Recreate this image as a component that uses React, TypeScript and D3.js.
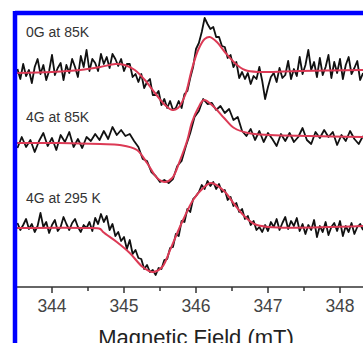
import React from 'react';
import * as d3 from 'd3';

const W = 363;
const H = 343;

// field grid of the recorded spectra (mT)
const FIELD_START = 343.52;
const STEP_FINE = 0.04;
const STEP_COARSE = 0.06;

const xTicks = [344, 345, 346, 347, 348];
const xMinorTicks = [344.5, 345.5, 346.5, 347.5];

const labels = ['0G at 85K', '4G at 85K', '4G at 295 K'];
const labelLevels = [25.0, 16.5, 8.4];
const offsets = [21.4, 14.4, 5.9];

// measured spectra (a.u., relative to each baseline)
const spec0G85 = [
  0.4, -0.6, 0.9, -0.3, 0.3, -1.0, 0.6, 1.4, -0.1, 0.8,
  -0.7, 0.2, 1.8, -0.2, 0.5, 1.0, -0.7, 0.8, 0.0, 1.4,
  0.6, -0.4, 1.7, 0.6, 2.3, 0.2, 1.4, 1.0, 0.2, 1.9,
  0.9, 1.6, 0.5, 1.9, 1.4, 0.7, 1.4, 0.2, 0.9, 0.9,
  -0.4, -0.1, -0.9, -0.1, -1.5, -0.9, -0.6, -2.2, -2.2, -1.8,
  -3.2, -2.6, -3.5, -2.8, -3.7, -3.5, -2.8, -3.5, -2.1, -1.8,
  -0.5, 0.6, 2.4, 3.0, 4.1, 5.5, 4.9, 4.4, 4.6, 3.6,
  3.6, 2.7, 2.6, 1.5, 1.8, 0.6, 1.1, -0.5, 0.1, -0.6,
  0.0, -1.1, -0.3, -0.6, 0.6, -0.8, -2.6, -1.4, -0.4, 0.0,
  -0.9, 0.5, -0.5, -0.2, 1.2, -0.6, 0.4, -0.3, 1.6, -0.1,
  0.8, 2.3, 0.3, 1.1, -0.4, 1.5, -0.2, 0.6, 1.8, -0.5,
  1.1, 0.0, 1.4, -0.6, 0.8, 1.6, -0.1, 0.5, 1.2, -0.7,
  0.0,
];

const spec4G85 = [
  -0.5, 0.6, -0.4, 0.3, -0.9, 0.2, 1.0, -0.3, 0.5, -0.7,
  0.8, 0.1, 1.1, -0.4, 0.4, -0.5, 0.6, 0.2, 0.9, 0.3,
  1.2, 0.4, 1.6, 0.8, 1.3, 0.7, 0.9, 0.2, -0.4, -1.6,
  -1.8, -2.9, -3.3, -3.9, -3.7, -4.0, -3.6, -2.3, -1.8, -0.3,
  1.0, 2.6, 3.2, 4.4, 3.9, 4.0, 3.3, 3.7, 3.0, 3.4,
  2.3, 2.6, 1.2, 0.7, 1.4, 0.3, 1.2, 0.1, 1.0, 0.4,
  -0.3, 0.9, 0.2, 1.0, 0.1, 0.6, 1.5, 0.3, -0.1, 1.1,
  0.5, 1.3, 0.6, 1.1, -0.2, 0.8, 0.2, 1.2, 0.4, -0.1,
  0.7,
];

const spec4G295 = [
  0.5, -0.2, 0.3, 0.9, -0.1, 0.4, -0.4, 0.2, 1.5, 0.1,
  0.6, -0.5, 0.3, 0.8, -0.3, 0.1, 1.1, 0.4, -0.2, 0.5,
  0.9, 0.1, -0.4, 0.3, 0.0, 0.6, -0.3, 1.0, 0.4, 1.4,
  0.6, 1.2, -0.2, 0.4, -0.8, -0.4, -1.3, -0.9, -2.1, -1.2,
  -2.6, -2.2, -3.0, -3.1, -4.1, -3.7, -4.4, -4.2, -4.7, -4.0,
  -4.1, -3.2, -3.1, -2.0, -1.9, -0.6, -0.8, 0.7, 0.6, 1.9,
  1.6, 2.9, 3.2, 3.6, 4.3, 3.9, 4.7, 4.2, 4.6, 3.9,
  4.4, 3.6, 3.8, 2.8, 3.1, 2.2, 2.5, 1.6, 1.9, 0.9,
  1.2, 0.3, 0.7, -0.2, 0.1, -0.4, 0.3, -0.3, 0.6, 0.1,
  0.9, -0.2, 0.5, 1.1, -0.1, 0.7, 0.2, 1.0, -0.3, 0.4,
  -0.6, 0.3, -0.2, 0.8, -0.9, 0.2, -0.4, 0.6, -0.7, 0.1,
  0.5, -0.3, 0.7, -0.8, 0.2, -0.4, 0.5, -0.6, 0.1, 0.4,
  -0.2,
];

// simulated fits: [field mT, intensity]
const fit0G85: [number, number][] = [
  [343.51, 0], [344.0, 0.1], [344.39, 0.3], [344.67, 0.6], [344.88, 0.9],
  [345.01, 0.8], [345.15, 0.3], [345.29, -0.7], [345.43, -2.0], [345.57, -3.2],
  [345.67, -3.7], [345.75, -3.5], [345.85, -2.2], [345.94, 0.3], [346.03, 2.3],
  [346.12, 3.4], [346.19, 3.6], [346.29, 3.1], [346.4, 2.1], [346.54, 1.0],
  [346.68, 0.3], [346.89, 0.1], [347.44, 0.2], [348.32, 0.3],
];

const fit4G85: [number, number][] = [
  [343.51, 0], [344.1, 0], [344.67, -0.1], [344.94, -0.2], [345.18, -0.7],
  [345.32, -2.0], [345.46, -3.5], [345.57, -3.9], [345.67, -3.5], [345.78, -1.7],
  [345.88, 0.3], [345.94, 2.0], [346.03, 3.5], [346.11, 4.3], [346.25, 3.6],
  [346.39, 2.5], [346.53, 1.5], [346.72, 1.0], [347.03, 0.8], [347.58, 0.7],
  [348.32, 0.6],
];

const fit4G295: [number, number][] = [
  [343.51, 0], [344.5, 0], [344.67, -0.1], [344.71, -0.4], [344.9, -1.4],
  [345.08, -2.5], [345.26, -3.9], [345.4, -4.4], [345.53, -3.9], [345.64, -2.2],
  [345.74, -0.5], [345.82, 0.8], [345.96, 2.8], [346.1, 4.0], [346.21, 4.5],
  [346.39, 3.7], [346.53, 2.4], [346.67, 1.2], [346.81, 0.4], [347.0, 0.1],
  [348.32, 0.2],
];

const spectra = [
  { values: spec0G85, step: STEP_FINE, fit: fit0G85 },
  { values: spec4G85, step: STEP_COARSE, fit: fit4G85 },
  { values: spec4G295, step: STEP_FINE, fit: fit4G295 },
];

export default function App() {
  const x = d3.scaleLinear().domain([344, 348]).range([52, 340]);
  const y = d3.scaleLinear().domain([0, 27.2]).range([287, 15]);

  const font = '"Liberation Sans", Arial, Helvetica, sans-serif';

  return (
    <svg
      width={W}
      height={H}
      style={{ position: 'absolute', left: 0, top: 0, background: '#fff' }}
    >
      <defs>
        <clipPath id="plot">
          <rect x={15} y={12} width={W - 15} height={287 - 12} />
        </clipPath>
      </defs>

      <g clipPath="url(#plot)">
        {spectra.map((s, k) => {
          const raw = d3
            .line<number>()
            .x((_, i) => x(FIELD_START + i * s.step))
            .y((v) => y(offsets[k] + v));
          const fit = d3
            .line<[number, number]>()
            .x((d) => x(d[0]))
            .y((d) => y(offsets[k] + d[1]))
            .curve(d3.curveCatmullRom.alpha(0.5));
          return (
            <g key={k}>
              <path d={raw(s.values) || ''} fill="none" stroke="#111" strokeWidth={1.8} strokeLinejoin="round" />
              <path d={fit(s.fit) || ''} fill="none" stroke="#dc3a55" strokeWidth={2} />
            </g>
          );
        })}
      </g>

      {labels.map((t, k) => (
        <text key={t} x={26} y={y(labelLevels[k])} fontFamily={font} fontSize={14} fill="#333">
          {t}
        </text>
      ))}

      {/* x axis */}
      <line x1={15} x2={W} y1={287} y2={287} stroke="#333" strokeWidth={1.5} />
      {xTicks.map((t) => (
        <g key={t}>
          <line x1={x(t)} x2={x(t)} y1={287} y2={293} stroke="#333" strokeWidth={1.5} />
          <text x={x(t)} y={312} textAnchor="middle" fontFamily={font} fontSize={17.5} fill="#444">
            {t}
          </text>
        </g>
      ))}
      {xMinorTicks.map((t) => (
        <line key={t} x1={x(t)} x2={x(t)} y1={287} y2={291} stroke="#333" strokeWidth={1.5} />
      ))}
      <text x={196} y={345} textAnchor="middle" fontFamily={font} fontSize={22} fill="#222">
        Magnetic Field (mT)
      </text>

      {/* blue frame */}
      <line x1={15} x2={W} y1={13} y2={13} stroke="#0000ff" strokeWidth={4.5} />
      <line x1={15} x2={15} y1={11} y2={H} stroke="#0000ff" strokeWidth={4.5} />
    </svg>
  );
}
